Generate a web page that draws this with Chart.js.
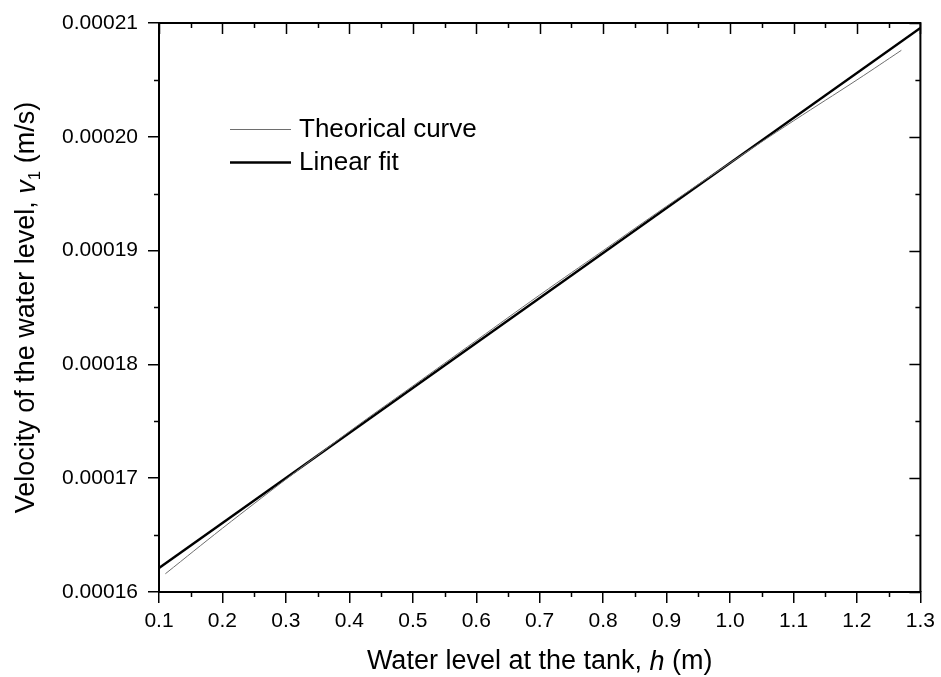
<!DOCTYPE html>
<html>
<head>
<meta charset="utf-8">
<script src="https://cdn.jsdelivr.net/npm/chart.js@4/dist/chart.umd.min.js"></script>
<style>
  html, body { margin: 0; padding: 0; background: #fff; }
  #wrap { width: 941px; height: 677px; }
</style>
</head>
<body>
<div id="wrap"><canvas id="velocityChart" width="941" height="677"></canvas></div>
<script>
const FONT = '"Liberation Sans", Arial, sans-serif'

// values
const theoryH = [0.11, 0.2, 0.3, 0.4, 0.5, 0.6, 0.7, 0.8, 0.9, 1.0, 1.1, 1.2, 1.27]
const theoryV = [0.0001616, 0.0001656, 0.0001699, 0.0001741, 0.0001781, 0.0001821, 0.0001861,
  0.0001900, 0.0001939, 0.0001977, 0.0002014, 0.0002050, 0.0002076]
const fitH = [0.1, 1.3]
const fitV = [0.0001621, 0.00020956]
const seriesNames = ['Theorical curve', 'Linear fit']

const xMin = 0.1, xMax = 1.3, xStep = 0.1
const yMin = 0.00016, yMax = 0.00021, yStep = 0.00001

const toPoints = (xs, ys) => xs.map((x, i) => ({ x: x, y: ys[i] }))

// frame, minor ticks, mirror ticks, legend and axis titles
const decorPlugin = {
  id: 'decor',
  afterDraw(chart) {
    const ctx = chart.ctx
    const a = chart.chartArea
    const xs = chart.scales.x
    const ys = chart.scales.y
    ctx.save()
    ctx.strokeStyle = '#000'

    // top and right frame
    ctx.lineWidth = 2
    ctx.beginPath()
    ctx.moveTo(a.left, a.top)
    ctx.lineTo(a.right, a.top)
    ctx.lineTo(a.right, a.bottom)
    ctx.stroke()

    ctx.lineWidth = 1.5
    ctx.beginPath()
    // x ticks: minor outside at bottom, major + minor inside at top
    for (let i = 0; i <= Math.round((xMax - xMin) / (xStep / 2)); i++) {
      const v = xMin + i * xStep / 2
      const px = Math.round(xs.getPixelForValue(v)) + 0.5
      const major = i % 2 === 0
      if (!major) {
        ctx.moveTo(px, a.bottom)
        ctx.lineTo(px, a.bottom + 5)
      }
      ctx.moveTo(px, a.top)
      ctx.lineTo(px, a.top + (major ? 11 : 5))
    }
    // y ticks
    for (let i = 0; i <= Math.round((yMax - yMin) / (yStep / 2)); i++) {
      const v = yMin + i * yStep / 2
      const py = Math.round(ys.getPixelForValue(v)) + 0.5
      const major = i % 2 === 0
      if (!major) {
        ctx.moveTo(a.left, py)
        ctx.lineTo(a.left - 5, py)
      }
      ctx.moveTo(a.right, py)
      ctx.lineTo(a.right - (major ? 11 : 5), py)
    }
    ctx.stroke()

    // legend
    const ds = chart.data.datasets
    const legendY = [129, 162]
    ctx.font = '26px ' + FONT
    ctx.fillStyle = '#000'
    ctx.textBaseline = 'middle'
    ds.forEach((d, i) => {
      ctx.strokeStyle = d.borderColor
      ctx.lineWidth = d.borderWidth
      ctx.beginPath()
      ctx.moveTo(230, legendY[i] + 0.5)
      ctx.lineTo(291, legendY[i] + 0.5)
      ctx.stroke()
      ctx.fillText(d.label, 299, legendY[i] + 1)
    })

    // x axis title
    const xParts = [
      { t: 'Water level at the tank, ', f: '27px ' + FONT },
      { t: 'h', f: 'italic 27px ' + FONT },
      { t: ' (m)', f: '27px ' + FONT }
    ]
    drawParts(ctx, xParts, (a.left + a.right) / 2, 662)

    // y axis title (rotated)
    ctx.save()
    ctx.translate(27, (a.top + a.bottom) / 2)
    ctx.rotate(-Math.PI / 2)
    const yParts = [
      { t: 'Velocity of the water level, ', f: '27px ' + FONT },
      { t: 'v', f: 'italic 27px ' + FONT },
      { t: '1', f: '17px ' + FONT, dy: 8 },
      { t: ' (m/s)', f: '27px ' + FONT }
    ]
    drawParts(ctx, yParts, 0, 0)
    ctx.restore()

    ctx.restore()
  }
}

function drawParts(ctx, parts, cx, cy) {
  let total = 0
  parts.forEach(p => { ctx.font = p.f; p.w = ctx.measureText(p.t).width; total += p.w })
  let x = cx - total / 2
  ctx.textBaseline = 'middle'
  ctx.textAlign = 'left'
  ctx.fillStyle = '#000'
  parts.forEach(p => {
    ctx.font = p.f
    ctx.fillText(p.t, x, cy + (p.dy || 0))
    x += p.w
  })
}

const ctx = document.getElementById('velocityChart').getContext('2d')
new Chart(ctx, {
  type: 'line',
  data: {
    datasets: [
      {
        label: seriesNames[0],
        data: toPoints(theoryH, theoryV),
        borderColor: '#6e6e6e',
        borderWidth: 1,
        pointRadius: 0,
        tension: 0.4,
        fill: false
      },
      {
        label: seriesNames[1],
        data: toPoints(fitH, fitV),
        borderColor: '#000',
        borderWidth: 2.5,
        pointRadius: 0,
        fill: false
      }
    ]
  },
  options: {
    responsive: false,
    animation: false,
    layout: { padding: { top: 23, right: 18, left: 0, bottom: 0 } },
    plugins: {
      legend: { display: false },
      tooltip: { enabled: false }
    },
    scales: {
      x: {
        type: 'linear',
        min: xMin,
        max: xMax,
        afterFit: s => { s.height = 85 },
        border: { color: '#000', width: 2 },
        grid: { drawOnChartArea: false, tickLength: 11, color: '#000', lineWidth: 1.5 },
        ticks: {
          stepSize: xStep,
          padding: 6,
          color: '#000',
          font: { family: FONT, size: 21 },
          maxRotation: 0,
          callback: v => v.toFixed(1)
        }
      },
      y: {
        type: 'linear',
        min: yMin,
        max: yMax,
        afterFit: s => { s.width = 159 },
        border: { color: '#000', width: 2 },
        grid: { drawOnChartArea: false, tickLength: 11, color: '#000', lineWidth: 1.5 },
        ticks: {
          stepSize: yStep,
          padding: 10,
          color: '#000',
          font: { family: FONT, size: 21 },
          callback: v => v.toFixed(5)
        }
      }
    }
  },
  plugins: [decorPlugin]
})
</script>
</body>
</html>
